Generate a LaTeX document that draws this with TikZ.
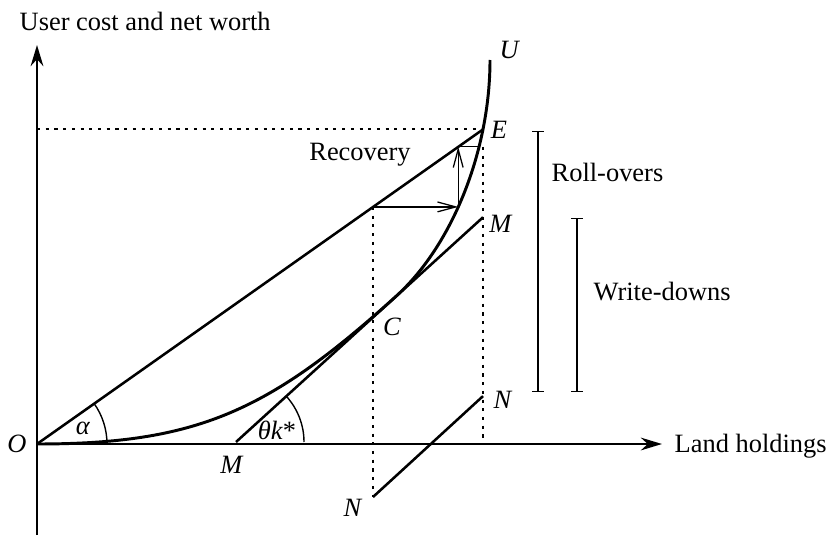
\documentclass[tikz,border=0pt]{standalone}
\usepackage{fontspec}
\setmainfont{Liberation Serif}
\usetikzlibrary{arrows.meta}

\begin{document}
\begin{tikzpicture}[
  every node/.style={font=\fontsize{18.8}{22}\selectfont,inner sep=1pt},
  axisline/.style={line width=1.9pt,-{Stealth[length=15pt,width=9pt]}},
  curveline/.style={line width=2.1pt},
  rayline/.style={line width=1.8pt},
  guide/.style={line width=1.3pt,dash pattern=on 2.2pt off 4pt},
  stepline/.style={line width=0.9pt},
  barb/.style={-{Straight Barb[length=13pt,width=7pt]}},
  bracket/.style={line width=1pt,{Bar[width=8.5pt]}-{Bar[width=8.5pt]}},
  anglearc/.style={line width=1pt}]
\useasboundingbox (-0.925,-2.375) rectangle (19.775,11.1);
% points
\coordinate (O) at (0,0);
\coordinate (ytop) at (0,9.975);
\coordinate (ybot) at (0,-2.275);
\coordinate (xend) at (15.625,0);
\coordinate (C) at (9,3.715);
\coordinate (U) at (11.325,9.6);
\coordinate (E) at (11.15,7.865);
\coordinate (s1) at (8.4,5.927);
\coordinate (s2) at (10.53,5.927);
\coordinate (s3) at (10.53,7.43);
\coordinate (s4) at (11.055,7.43);
\coordinate (m1) at (4.975,0.05);
\coordinate (m2) at (11.15,5.668);
\coordinate (n1) at (8.4,-1.325);
\coordinate (n2) at (11.15,1.197);
% axes
\draw[axisline] (ybot) -- (ytop);
\draw[axisline] (O) -- (xend);
% guides
\draw[guide] (E -| O) -- (E);
\draw[guide] (E |- s4) -- (E |- O);
\draw[guide] (s1) -- (n1);
% curve OU
\draw[curveline] (O) .. controls (4,0) and (5.8,0.813) .. (C)
  .. controls (10.395,4.994) and (11.325,7.344) .. (U);
% rays
\draw[rayline] (O) -- (E);
\draw[rayline] (m1) -- (m2);
\draw[rayline] (n1) -- (n2);
% recovery steps
\draw[stepline,barb] (s1) -- (s2);
\draw[stepline,barb] (s2) -- (s3);
\draw[stepline] (s3) -- (s4);
% angles
\draw[anglearc] (1.75,0) arc[start angle=0,end angle=35.2,radius=1.75];
\draw[anglearc] ([xshift=1.7cm]m1) arc[start angle=0,end angle=42.3,radius=1.7];
% brackets
\coordinate (r1) at (12.525,7.825);
\coordinate (r2) at (12.525,1.3);
\coordinate (w1) at (13.5,5.65);
\coordinate (w2) at (13.5,1.3);
\draw[bracket] (r1) -- (r2);
\draw[bracket] (w1) -- (w2);
% labels
\node[anchor=west] (ylab) at (-0.475,10.575) {User cost and net worth};
\node[anchor=west] (xlab) at (15.9,-0.05) {Land holdings};
\node (lo) at (-0.5,0) {\textit{O}};
\node (lu) at (11.825,9.85) {\textit{U}};
\node (le) at (11.55,7.85) {\textit{E}};
\node (lm2) at (11.6,5.5) {\textit{M}};
\node (lc) at (8.875,2.925) {\textit{C}};
\node (ln2) at (11.65,1.1) {\textit{N}};
\node (ln1) at (7.9,-1.6) {\textit{N}};
\node (lm1) at (4.875,-0.525) {\textit{M}};
\node (la) at (1.15,0.4) {\textit{α}};
\node (lt) at (6.0,0.35) {\textit{θk}*};
\node (lrec) at (8.075,7.225) {Recovery};
\node[anchor=west] (lroll) at (12.825,6.8) {Roll-overs};
\node[anchor=west] (lwrite) at (13.875,3.8) {Write-downs};
\end{tikzpicture}
\end{document}
